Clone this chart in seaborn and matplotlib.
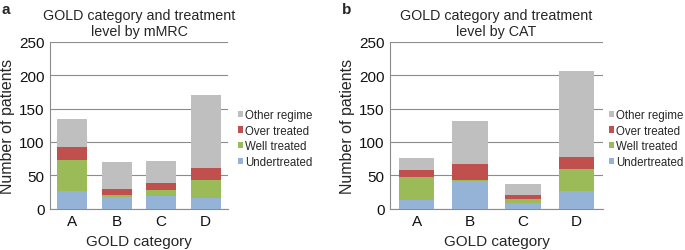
import numpy as np
import matplotlib
matplotlib.use("Agg")
import matplotlib.pyplot as plt
import seaborn as sns

# data
categories = ["A", "B", "C", "D"]
series = ["Undertreated", "Well treated", "Over treated", "Other regime"]

mmrc_under = [27, 18, 19, 16]
mmrc_well = [46, 2, 9, 27]
mmrc_over = [20, 10, 10, 18]
mmrc_other = [42, 40, 33, 110]

cat_under = [13, 41, 8, 26]
cat_well = [35, 2, 7, 34]
cat_over = [10, 24, 5, 18]
cat_other = [18, 64, 17, 129]

colors = {"Undertreated": "#95b3d7", "Well treated": "#9bbb59",
          "Over treated": "#c0504d", "Other regime": "#bfbfbf"}

sns.set_style("white")
plt.rcParams['font.family'] = ['Liberation Sans', 'DejaVu Sans']

fig = plt.figure(figsize=(6.85, 2.51), dpi=100)
W, H = 685, 251
ax1 = fig.add_axes([50 / W, 1 - 209.5 / H, 178 / W, 166.5 / H])
ax2 = fig.add_axes([390 / W, 1 - 209.5 / H, 213 / W, 166.5 / H])


def stacked(ax, vals, title, leg_x):
    cum = np.cumsum(np.array(vals), axis=0)
    # draw from the top layer down so each lower layer covers the one above
    for i in range(len(series) - 1, -1, -1):
        sns.barplot(x=categories, y=cum[i], color=colors[series[i]],
                    width=0.67, label=series[i], ax=ax, saturation=1,
                    edgecolor="none", zorder=3)
    ax.set_ylim(0, 250)
    ax.set_yticks(range(0, 251, 50))
    ax.yaxis.grid(True, color="#8c8c8c", lw=0.8, zorder=0)
    ax.set_axisbelow(True)
    for s in ["top", "right"]:
        ax.spines[s].set_visible(False)
    ax.spines["left"].set_color("#8c8c8c")
    ax.spines["bottom"].set_color("#8c8c8c")
    ax.tick_params(axis="both", length=0, labelsize=11, pad=4, colors="#111111")
    ax.set_xlabel("GOLD category", fontsize=11, labelpad=4)
    ax.set_ylabel("Number of patients", fontsize=11.5, labelpad=3)
    ax.set_title(title, fontsize=10.3, pad=5, linespacing=1.15)
    ax.legend(loc="center left", bbox_to_anchor=(leg_x, 0.42), frameon=False,
              fontsize=8.3, handlelength=0.45, handleheight=0.45, handletextpad=0.2,
              labelspacing=0.33, borderaxespad=0, borderpad=0)


stacked(ax1, [mmrc_under, mmrc_well, mmrc_over, mmrc_other],
        "GOLD category and treatment\nlevel by mMRC", 1.056)
stacked(ax2, [cat_under, cat_well, cat_over, cat_other],
        "GOLD category and treatment\nlevel by CAT", 1.028)

fig.text(2 / W, 1 - 10 / H, "a", fontsize=11, fontweight="bold", va="center")
fig.text(342 / W, 1 - 10 / H, "b", fontsize=11, fontweight="bold", va="center")

fig.savefig("out.png", dpi=100)
